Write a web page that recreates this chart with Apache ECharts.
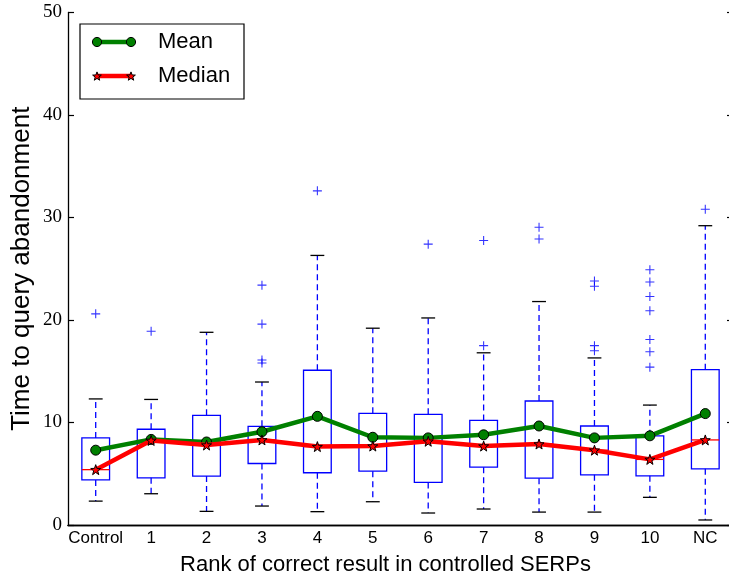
<!DOCTYPE html>
<html>
<head>
<meta charset="utf-8">
<script src="https://cdn.jsdelivr.net/npm/echarts@6/dist/echarts.min.js"></script>
<style>
html,body{margin:0;padding:0;background:#fff;overflow:hidden;}
#chart{width:745px;height:581px;}
</style>
</head>
<body>
<div id="chart"></div>
<script>
// ---- data ----
const categories = ['Control','1','2','3','4','5','6','7','8','9','10','NC'];
const whiskerLow  = [2.33, 3.05, 1.33, 1.85, 1.30, 2.27, 1.17, 1.56, 1.26, 1.26, 2.70, 0.49];
const q1          = [4.40, 4.60, 4.77, 6.00, 5.10, 5.25, 4.15, 5.64, 4.57, 4.90, 4.80, 5.48];
const medians     = [5.40, 8.25, 7.80, 8.30, 7.65, 7.70, 8.17, 7.70, 7.90, 7.30, 6.40, 8.30];
const q3          = [8.50, 9.34, 10.70, 9.63, 15.10, 10.90, 10.80, 10.20, 12.10, 9.66, 8.70, 15.15];
const whiskerHigh = [12.30, 12.25, 18.80, 13.95, 26.30, 19.20, 20.20, 16.80, 21.80, 16.30, 11.70, 29.20];
const means       = [7.30, 8.35, 8.10, 9.10, 10.60, 8.56, 8.50, 8.80, 9.66, 8.50, 8.70, 10.87];
const outliers    = [
  [20.6],
  [18.9],
  [],
  [23.4, 19.6, 16.1, 15.8],
  [32.6],
  [],
  [27.4],
  [27.75, 17.5],
  [29.05, 27.9],
  [23.8, 23.3, 17.5, 17.0],
  [24.9, 23.7, 22.3, 20.9, 18.1, 16.9, 15.4],
  [30.8]
];
const yTicks = {min: 0, max: 50, interval: 10};

// ---- build library data ----
const boxData = categories.map((c, i) => [i, whiskerLow[i], q1[i], medians[i], q3[i], whiskerHigh[i]]);
const outlierData = [];
outliers.forEach((arr, i) => arr.forEach(v => outlierData.push([i, v])));

const STAR = 'path://M0,-10 L2.35,-3.24 L9.51,-3.09 L3.8,1.24 L5.88,8.09 L0,4 L-5.88,8.09 L-3.8,1.24 L-9.51,-3.09 L-2.35,-3.24 Z';
const PLUS = 'path://M-1.2,-10 L1.2,-10 L1.2,-1.2 L10,-1.2 L10,1.2 L1.2,1.2 L1.2,10 L-1.2,10 L-1.2,1.2 L-10,1.2 L-10,-1.2 L-1.2,-1.2 Z';
const SANS = '"Liberation Sans", Arial, Helvetica, sans-serif';
const SERIF = '"Liberation Serif", "Times New Roman", serif';

function starPoints(cx, cy, R) {
  const pts = [];
  const r = R * 0.42;
  for (let k = 0; k < 10; k++) {
    const a = -Math.PI / 2 + k * Math.PI / 5;
    const rr = k % 2 === 0 ? R : r;
    pts.push([cx + rr * Math.cos(a), cy + rr * Math.sin(a)]);
  }
  return pts;
}

function renderBox(params, api) {
  const i = api.value(0);
  const pLow = api.coord([i, api.value(1)]);
  const pQ1 = api.coord([i, api.value(2)]);
  const pMed = api.coord([i, api.value(3)]);
  const pQ3 = api.coord([i, api.value(4)]);
  const pHigh = api.coord([i, api.value(5)]);
  const band = api.size([1, 0])[0];
  const cx = pQ1[0];
  const bw = band * 0.5;
  const cw = band * 0.25;
  const blue = '#0000ff';
  return {
    type: 'group',
    children: [
      {type: 'line', shape: {x1: cx, y1: pQ3[1], x2: cx, y2: pHigh[1]},
       style: {stroke: blue, lineWidth: 1.3, lineDash: [6, 4]}},
      {type: 'line', shape: {x1: cx, y1: pQ1[1], x2: cx, y2: pLow[1]},
       style: {stroke: blue, lineWidth: 1.3, lineDash: [6, 4]}},
      {type: 'line', shape: {x1: cx - cw / 2, y1: pHigh[1], x2: cx + cw / 2, y2: pHigh[1]},
       style: {stroke: '#000', lineWidth: 1.3}},
      {type: 'line', shape: {x1: cx - cw / 2, y1: pLow[1], x2: cx + cw / 2, y2: pLow[1]},
       style: {stroke: '#000', lineWidth: 1.3}},
      {type: 'rect', shape: {x: cx - bw / 2, y: pQ3[1], width: bw, height: pQ1[1] - pQ3[1]},
       style: {stroke: blue, fill: 'none', lineWidth: 1.3}},
      {type: 'line', shape: {x1: cx - bw / 2, y1: pMed[1], x2: cx + bw / 2, y2: pMed[1]},
       style: {stroke: '#ff0000', lineWidth: 1.3}}
    ]
  };
}

const chart = echarts.init(document.getElementById('chart'), null, {renderer: 'canvas'});

const axisLineStyle = {color: '#000', width: 1.3};
const option = {
  animation: false,
  backgroundColor: '#fff',
  grid: {left: 68, right: 12, top: 12.5, bottom: 55, containLabel: false},
  xAxis: [
    {
      type: 'category', data: categories, position: 'bottom', boundaryGap: true,
      axisLine: {lineStyle: axisLineStyle},
      axisTick: {inside: true, alignWithLabel: true, interval: 0, length: 6, lineStyle: {color: '#000', width: 1.2}},
      axisLabel: {color: '#000', fontFamily: SANS, fontSize: 17, margin: 5, interval: 0},
      splitLine: {show: false},
      name: 'Rank of correct result in controlled SERPs',
      nameLocation: 'middle', nameGap: 29,
      nameTextStyle: {color: '#000', fontFamily: SANS, fontSize: 22, padding: [0, 30, 0, 0]}
    },
    {
      type: 'category', data: categories, position: 'top', boundaryGap: true,
      axisLine: {lineStyle: axisLineStyle},
      axisTick: {inside: true, alignWithLabel: true, interval: 0, length: 6, lineStyle: {color: '#000', width: 1.2}},
      axisLabel: {show: false},
      splitLine: {show: false}
    }
  ],
  yAxis: [
    {
      type: 'value', min: yTicks.min, max: yTicks.max, interval: yTicks.interval, position: 'left',
      axisLine: {show: true, lineStyle: axisLineStyle},
      axisTick: {show: true, inside: true, length: 6, lineStyle: {color: '#000', width: 1.2}},
      axisLabel: {color: '#000', fontFamily: SERIF, fontSize: 19, margin: 6},
      splitLine: {show: false},
      name: 'Time to query abandonment',
      nameLocation: 'middle', nameGap: 33, nameRotate: 90, nameMoveOverlap: false,
      nameTextStyle: {color: '#000', fontFamily: SANS, fontSize: 26}
    },
    {
      type: 'value', min: yTicks.min, max: yTicks.max, interval: yTicks.interval, position: 'right',
      axisLine: {show: true, lineStyle: axisLineStyle},
      axisTick: {show: true, inside: true, length: 6, lineStyle: {color: '#000', width: 1.2}},
      axisLabel: {show: false},
      splitLine: {show: false}
    }
  ],
  series: [
    {
      type: 'custom', name: 'boxes', renderItem: renderBox, data: boxData,
      encode: {x: 0, y: [1, 2, 3, 4, 5]}, z: 2, clip: false
    },
    {
      type: 'scatter', name: 'outliers', data: outlierData, symbol: PLUS, symbolSize: 9,
      itemStyle: {color: '#0000ff'}, z: 2
    },
    {
      type: 'line', name: 'Mean', data: means, z: 3,
      lineStyle: {color: '#008000', width: 4.5},
      symbol: 'circle', symbolSize: 10,
      itemStyle: {color: '#008000', borderColor: '#000', borderWidth: 1},
      showAllSymbol: true
    },
    {
      type: 'line', name: 'Median', data: medians, z: 4,
      lineStyle: {color: '#ff0000', width: 4.5},
      symbol: STAR, symbolSize: 10,
      itemStyle: {color: '#ff0000', borderColor: '#000', borderWidth: 1},
      showAllSymbol: true
    }
  ],
  graphic: [
    {
      type: 'group', x: 80, y: 24, z: 100,
      children: [
        {type: 'rect', shape: {x: 0, y: 0, width: 164, height: 75},
         style: {fill: '#fff', stroke: '#000', lineWidth: 1.2}},
        {type: 'line', shape: {x1: 17, y1: 18, x2: 51, y2: 18}, style: {stroke: '#008000', lineWidth: 4.5}},
        {type: 'circle', shape: {cx: 17, cy: 18, r: 4.6}, style: {fill: '#008000', stroke: '#000', lineWidth: 1}},
        {type: 'circle', shape: {cx: 51, cy: 18, r: 4.6}, style: {fill: '#008000', stroke: '#000', lineWidth: 1}},
        {type: 'text', x: 78, y: 18, style: {text: 'Mean', fill: '#000', font: '22px ' + SANS, textVerticalAlign: 'middle'}},
        {type: 'line', shape: {x1: 17, y1: 52, x2: 51, y2: 52}, style: {stroke: '#ff0000', lineWidth: 4.5}},
        {type: 'polygon', shape: {points: starPoints(17, 52.5, 4.6)},
         style: {fill: '#ff0000', stroke: '#000', lineWidth: 1}},
        {type: 'polygon', shape: {points: starPoints(51, 52.5, 4.6)},
         style: {fill: '#ff0000', stroke: '#000', lineWidth: 1}},
        {type: 'text', x: 78, y: 52, style: {text: 'Median', fill: '#000', font: '22px ' + SANS, textVerticalAlign: 'middle'}}
      ]
    }
  ]
};
chart.setOption(option);
</script>
</body>
</html>
